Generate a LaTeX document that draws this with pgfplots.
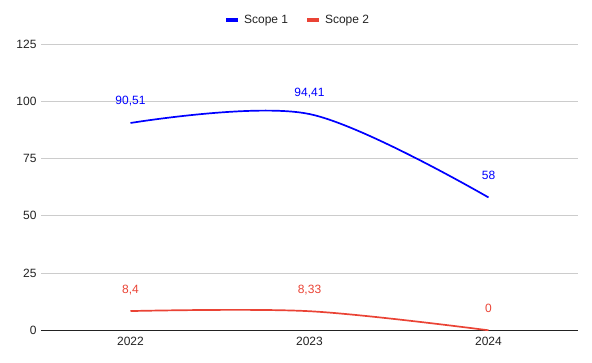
\documentclass[border=0pt]{standalone}
\usepackage{fontspec}
\setmainfont{Liberation Sans}
\usepackage{pgfplots}
\pgfplotsset{compat=1.18}
\definecolor{sblue}{HTML}{0000FF}
\definecolor{sred}{HTML}{EA4335}
\definecolor{gridc}{HTML}{CCCCCC}
\definecolor{txt}{HTML}{222222}
\begin{document}
\begin{tikzpicture}
\useasboundingbox (0,0) rectangle (592pt,363pt);
\begin{axis}[
  at={(41pt,32.7pt)}, anchor=south west,
  scale only axis, width=537pt, height=286.3pt,
  xmin=-0.5, xmax=2.5, ymin=0, ymax=125,
  xtick={0,1,2}, xticklabels={2022,2023,2024},
  ytick={0,25,50,75,100,125},
  ymajorgrids, grid style={gridc, line width=0.8pt},
  axis line style={draw=none},
  major tick length=0pt,
  tick label style={font=\fontsize{12}{14}\selectfont, text=txt},
  /pgf/number format/assume math mode=true,
  yticklabel style={xshift=-1pt},
  xticklabel style={yshift=-3pt},
  legend columns=2,
  legend style={at={(0.478,1.084)}, anchor=center, draw=none, fill=none,
    font=\fontsize{12}{14}\selectfont, text=txt,
    /tikz/every even column/.append style={column sep=15pt}},
  legend image code/.code={\draw[#1, line width=4pt] (0pt,0pt) -- (12pt,0pt); \path (15pt,0pt);},
  nodes near coords, point meta=explicit symbolic,
  every node near coord/.append style={font=\fontsize{12}{14}\selectfont, anchor=base, inner sep=0pt, yshift=18pt},
]
\draw[txt, line width=0.9pt] (axis cs:-0.5,0) -- (axis cs:2.5,0);
\addplot[sblue, line width=1.7pt, smooth, tension=0.55, mark=none,
  every node near coord/.append style={text=sblue}]
  coordinates {(0,90.51)[90,51] (1,94.41)[94,41] (2,58)[58]};
\addlegendentry{Scope 1}
\addplot[sred, line width=1.7pt, smooth, tension=0.55, mark=none,
  every node near coord/.append style={text=sred}]
  coordinates {(0,8.4)[8,4] (1,8.33)[8,33] (2,0)[0]};
\addlegendentry{Scope 2}
\end{axis}
\end{tikzpicture}
\end{document}
